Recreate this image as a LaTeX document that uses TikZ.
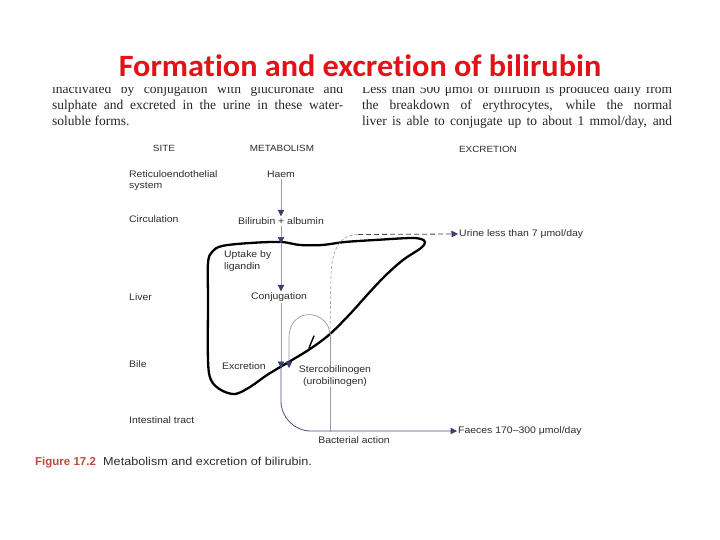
\documentclass[tikz,border=0pt]{standalone}
\usepackage{fontspec}
\setmainfont{Liberation Serif}
\setsansfont{Liberation Sans}
\newfontfamily\titlefont[FakeStretch=1.04,Ligatures=NoCommon]{Carlito}
\newfontfamily\labfont[FakeStretch=1.1]{Liberation Sans}
\usetikzlibrary{arrows.meta}
\definecolor{navy}{RGB}{58,64,110}
\definecolor{lgrey}{RGB}{150,154,172}
\definecolor{titlered}{RGB}{226,18,24}
\definecolor{txt}{RGB}{45,45,45}
\definecolor{figred}{RGB}{192,72,62}
\begin{document}
\begin{tikzpicture}[x=1pt,y=-1pt,
  lab/.style={font=\labfont\fontsize{9.5}{11.5}\selectfont, text=txt, inner sep=1pt},
  hdr/.style={font=\labfont\fontsize{9}{10}\selectfont, text=txt, inner sep=1pt},
  body/.style={font=\rmfamily\fontsize{13.5}{16}\selectfont, text=black!85, inner sep=0pt, anchor=base west},
  tip/.style={-{Triangle[length=6.5pt,width=6.5pt,color=navy]}},
  arr/.style={draw=lgrey, line width=0.7pt, tip},
  guide/.style={draw=lgrey, line width=0.6pt},
  liverline/.style={draw=black, line width=2.3pt, line join=round, line cap=round}]
\useasboundingbox[fill=white] (0,0) rectangle (720,540);

% body text columns
\node[body] (l1) at (52,94) {\makebox[291pt][s]{inactivated by conjugation with glucuronate and}};
\node[body] (l2) at (52,110) {\makebox[291pt][s]{sulphate and excreted in the urine in these water-}};
\node[body] (l3) at (52,126) {soluble forms.};
\node[body] (r1) at (362,94) {\makebox[310pt][s]{Less than 500 μmol of bilirubin is produced daily from}};
\node[body] (r2) at (362,110) {\makebox[310pt][s]{the breakdown of erythrocytes, while the normal}};
\node[body] (r3) at (362,126) {\makebox[310pt][s]{liver is able to conjugate up to about 1 mmol/day, and}};
\fill[white] (0,0) rectangle (720,87.5);

% title
\node[font=\titlefont\bfseries\fontsize{31}{36}\selectfont, text=titlered, anchor=base, inner sep=0pt] (title) at (360,77) {Formation and excretion of bilirubin};

% headers
\node[hdr] (site) at (164,148) {SITE};
\node[hdr] (metab) at (282,148) {METABOLISM};
\node[hdr] (excr) at (488,149) {EXCRETION};

% site labels
\node[lab, anchor=west, align=left] (res) at (128,180.5) {Reticuloendothelial\\system};
\node[lab, anchor=west] (circ) at (128,219) {Circulation};
\node[lab, anchor=west] (liv) at (128,297) {Liver};
\node[lab, anchor=west] (bile) at (128,364) {Bile};
\node[lab, anchor=west] (intt) at (128,420) {Intestinal tract};

% liver outline
\draw[liverline] plot[smooth cycle, tension=0.55] coordinates {
 (222,246) (250,243) (281,242) (300,245) (322,245) (345,242) (375,240) (410,238)
 (421,239) (425,242) (421,248) (403,260) (385,276) (368,294) (350,314) (330,334)
 (310,349) (287,363) (267,375) (250,387) (235,394) (221,390) (211,380) (208,360)
 (208,300) (208,263) (212,252)};
\draw[draw=black, line width=1.4pt, line cap=round] (309,348) .. controls (311,343) .. (314,336);

% metabolism labels
\node[lab] (haem) at (281,174) {Haem};
\node[lab] (bil) at (281,221) {Bilirubin + albumin};
\node[lab, anchor=west, align=left] (upt) at (223,261) {Uptake by\\ligandin};
\node[lab] (conj) at (279,297) {Conjugation};
\node[lab, anchor=west] (exc) at (221,366) {Excretion};
\node[lab, align=center] (ster) at (335,376) {Stercobilinogen\\(urobilinogen)};
\node[lab] (bact) at (354,440) {Bacterial action};
\node[lab, anchor=west] (urine) at (458,234) {Urine less than 7 μmol/day};
\node[lab, anchor=west] (faec) at (457,431) {Faeces 170–300 μmol/day};

% coordinates
\coordinate (ltop) at (281,243.5);
\coordinate (e1) at (281,368);
\coordinate (e2) at (289,368);
\coordinate (s1) at (330,334);
\coordinate (b1) at (330,432);
\coordinate (u1) at (358,234.5);

% connectors
\draw[arr] (haem.south) -- (haem.south |- bil.north);
\draw[arr] (bil.south) -- (ltop);
\draw[arr] (ltop) -- (ltop |- conj.north);
\draw[arr] (conj.south -| e1) -- (e1);
\draw[draw=navy!80!lgrey, line width=0.8pt, rounded corners=30pt, tip] (e1) |- (faec.west);
\draw[arr] (s1) .. controls (328,309) and (289,306) .. (289,338) -- (e2);
\draw[guide] (s1) -- (s1 |- ster.north);
\draw[guide] (s1 |- ster.south) -- (b1);
\draw[guide, dash pattern=on 3pt off 2pt] (s1) -- (331,275) .. controls (332,246) and (342,234.5) .. (u1);
\draw[draw=navy, line width=0.8pt, dash pattern=on 5pt off 3pt, tip] (u1) -- (urine.west);

% caption
\node[font=\sffamily\bfseries\fontsize{11.5}{13}\selectfont, text=figred, inner sep=0pt, anchor=base west] (fig) at (35,465) {Figure 17.2};
\node[font=\labfont\fontsize{11.5}{13}\selectfont, text=txt, inner sep=0pt, anchor=base west] (cap) at (103,465) {Metabolism and excretion of bilirubin.};
\end{tikzpicture}
\end{document}
